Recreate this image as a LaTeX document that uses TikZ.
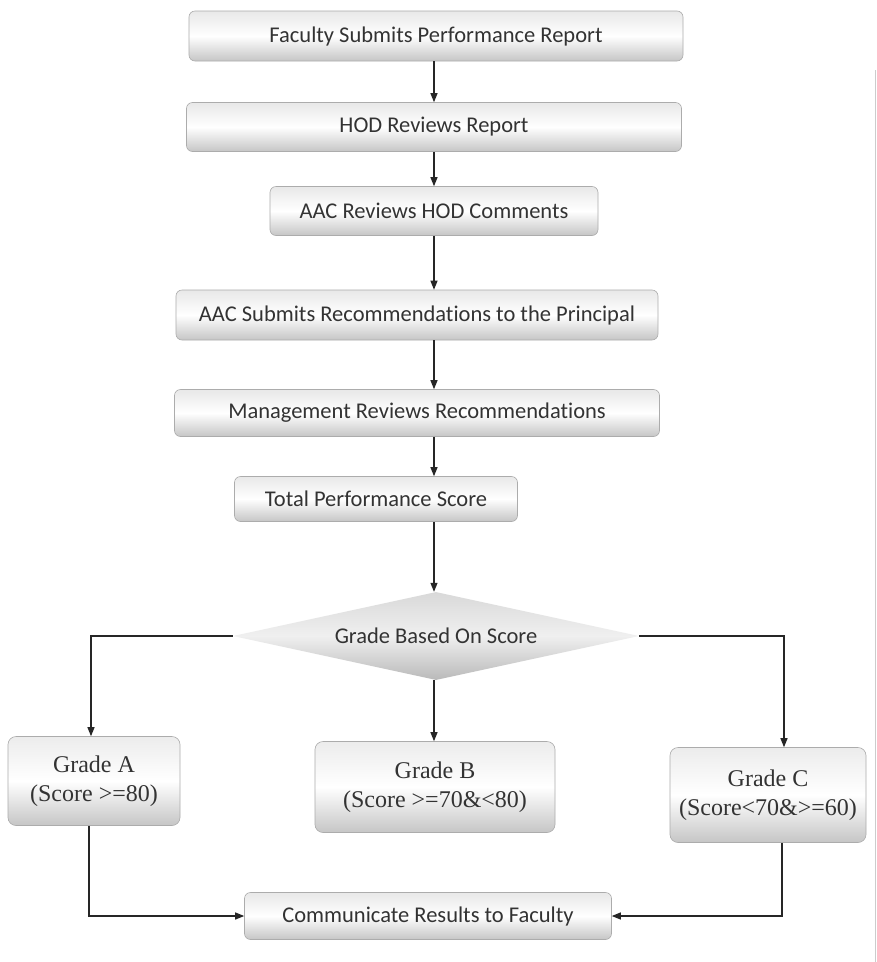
\documentclass[tikz,border=0pt]{standalone}
\usepackage{fontspec}
\setmainfont{Liberation Serif}
\newfontfamily\calib[Ligatures=NoCommon]{Carlito}
\usetikzlibrary{shapes.geometric,arrows.meta,calc}
\begin{document}
\begin{tikzpicture}[x=1pt,y=-1pt,
  stepbox/.style={draw=gray!65, line width=0.6pt, rounded corners=6pt,
    top color=gray!18, bottom color=gray!45, middle color=white,
    text=black!80, font=\calib\fontsize{22.5}{26}\selectfont, inner sep=0pt},
  gradebox/.style={draw=gray!65, line width=0.6pt, rounded corners=8pt,
    top color=gray!15, bottom color=gray!45, middle color=white,
    text=black!80, font=\fontsize{24}{29}\selectfont, align=center, inner sep=0pt},
  decision/.style={diamond, aspect=4.6, inner sep=0pt, draw=none,
    top color=gray!30, bottom color=gray!55, middle color=gray!12,
    text=black!80, font=\calib\fontsize{22.5}{26}\selectfont},
  arr/.style={line width=1.2pt, draw=black!85, -{Triangle[length=9pt,width=7pt]}}]
\useasboundingbox (0,0) rectangle (877,962);
\fill[white] (0,0) rectangle (877,962);
\coordinate (spine) at (434,0);

\node[stepbox, minimum width=494pt, minimum height=50pt] (b1) at (436,36) {Faculty Submits Performance Report};
\node[stepbox, minimum width=495pt, minimum height=49pt] (b2) at (434,127) {HOD Reviews Report};
\node[stepbox, minimum width=328pt, minimum height=49pt] (b3) at (434,211) {AAC Reviews HOD Comments};
\node[stepbox, minimum width=482pt, minimum height=50pt] (b4) at (417,315) {AAC Submits Recommendations to the Principal};
\node[stepbox, minimum width=485pt, minimum height=47pt] (b5) at (417,413) {Management Reviews Recommendations};
\node[stepbox, minimum width=283pt, minimum height=45pt] (b6) at (376,499) {Total Performance Score};
\node[decision, minimum width=406pt, minimum height=88pt] (dia) at (436,636) {Grade Based On Score};
\node[gradebox, minimum width=172pt, minimum height=89pt] (gA) at (94,781) {Grade A\\(Score >=80)};
\node[gradebox, minimum width=240pt, minimum height=91pt] (gB) at (435,787) {Grade B\\(Score >=70\&<80)};
\node[gradebox, minimum width=196pt, minimum height=95pt] (gC) at (768,795) {Grade C\\(Score<70\&>=60)};
\node[stepbox, minimum width=367pt, minimum height=47pt] (comm) at (428,916) {Communicate Results to Faculty};

\draw[arr] (b1.south -| spine) -- (b2.north -| spine);
\draw[arr] (b2.south -| spine) -- (b3.north -| spine);
\draw[arr] (b3.south -| spine) -- (b4.north -| spine);
\draw[arr] (b4.south -| spine) -- (b5.north -| spine);
\draw[arr] (b5.south -| spine) -- (b6.north -| spine);
\draw[arr] (b6.south -| spine) -- (dia.north -| spine);
\draw[arr] (dia.west) -| ([xshift=-3pt]gA.north);
\draw[arr] (dia.south -| spine) -- (gB.north -| spine);
\draw[arr] (dia.east) -| ([xshift=16pt]gC.north);
\draw[arr] ([xshift=-5pt]gA.south) |- (comm.west);
\draw[arr] ([xshift=14pt]gC.south) |- (comm.east);

\draw[gray!40, line width=0.8pt] (875,70) -- (875,962);
\end{tikzpicture}
\end{document}
